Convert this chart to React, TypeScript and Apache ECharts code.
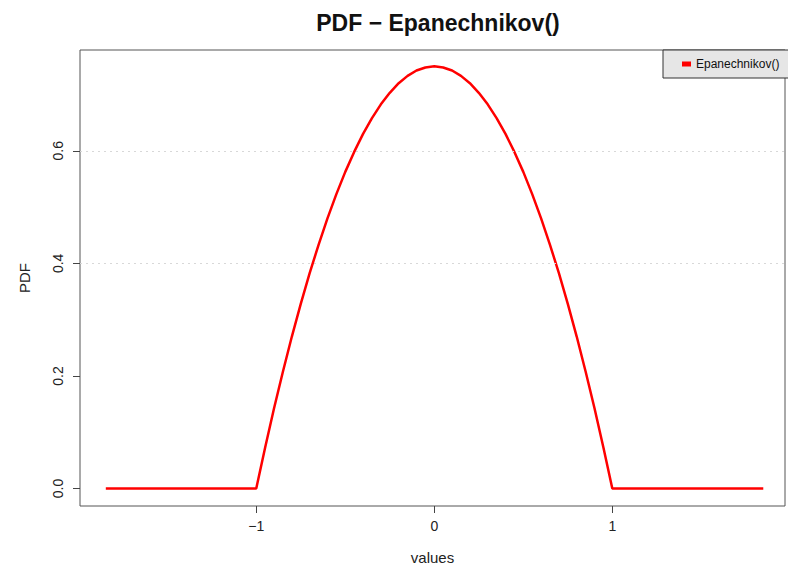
import React, { useEffect, useRef } from "react";
import * as echarts from "echarts";

const titleText = "PDF − Epanechnikov()";
const seriesName = "Epanechnikov()";
const xValues = [
  -1.845, -1.0, -0.95, -0.9, -0.85, -0.8, -0.75, -0.7, -0.65, -0.6, -0.55, -0.5, -0.45, -0.4, -0.35,
  -0.3, -0.25, -0.2, -0.15, -0.1, -0.05, 0, 0.05, 0.1, 0.15, 0.2, 0.25, 0.3, 0.35, 0.4, 0.45, 0.5,
  0.55, 0.6, 0.65, 0.7, 0.75, 0.8, 0.85, 0.9, 0.95, 1.0, 1.848,
];
const pdfValues = [
  0, 0, 0.073, 0.1425, 0.208, 0.27, 0.328, 0.3825, 0.433, 0.48, 0.523, 0.5625, 0.598, 0.63, 0.658,
  0.6825, 0.703, 0.72, 0.733, 0.7425, 0.748, 0.75, 0.748, 0.7425, 0.733, 0.72, 0.703, 0.6825, 0.658,
  0.63, 0.598, 0.5625, 0.523, 0.48, 0.433, 0.3825, 0.328, 0.27, 0.208, 0.1425, 0.073, 0, 0,
];
const xTicks = [-1, 0, 1];
const yTicks = [0, 0.2, 0.4, 0.6];
const gridLineValues = [0.4, 0.6];

const FONT = "Liberation Sans, Arial, Helvetica, sans-serif";

export default function App() {
  const ref = useRef<HTMLDivElement>(null);
  useEffect(() => {
    if (!ref.current) return;
    const chart = echarts.init(ref.current, null, { renderer: "svg" });
    const fmtMinus = (s: string) => s.replace("-", "−");
    chart.setOption({
      animation: false,
      backgroundColor: "#ffffff",
      title: {
        text: titleText,
        left: 433,
        textAlign: "center",
        top: 6,
        textStyle: { fontFamily: FONT, fontSize: 23, fontWeight: "bold", color: "#111" },
      },
      legend: {
        data: [seriesName],
        left: 663,
        top: 50,
        orient: "vertical",
        backgroundColor: "#e6e6e6",
        borderColor: "#333",
        borderWidth: 1,
        padding: [8, 20, 8, 19],
        itemWidth: 9,
        itemHeight: 5,
        icon: "rect",
        textStyle: { fontFamily: FONT, fontSize: 12, color: "#111" },
      },
      grid: {
        left: 80,
        top: 50,
        right: 3,
        bottom: 58,
        show: true,
        borderColor: "#555",
        borderWidth: 1,
        backgroundColor: "transparent",
      },
      xAxis: {
        type: "value",
        min: -1.99,
        max: 1.97,
        name: "values",
        nameLocation: "middle",
        nameGap: 44,
        nameTextStyle: { fontFamily: FONT, fontSize: 15, color: "#222" },
        axisLine: { show: false, onZero: false },
        axisTick: { show: true, length: 7, lineStyle: { color: "#444" }, customValues: xTicks },
        axisLabel: {
          fontFamily: FONT,
          fontSize: 14,
          color: "#222",
          margin: 13,
          customValues: xTicks,
          formatter: (v: number) => fmtMinus(String(v)),
        },
        splitLine: { show: false },
      },
      yAxis: {
        type: "value",
        min: -0.031,
        max: 0.779,
        name: "PDF",
        nameLocation: "middle",
        nameGap: 48,
        nameTextStyle: { fontFamily: FONT, fontSize: 15, color: "#222" },
        axisLine: { show: false, onZero: false },
        axisTick: { show: true, length: 7, lineStyle: { color: "#444" }, customValues: yTicks },
        axisLabel: {
          fontFamily: FONT,
          fontSize: 14,
          color: "#222",
          rotate: 90,
          margin: 15,
          customValues: yTicks,
          formatter: (v: number) => v.toFixed(1),
        },
        splitLine: { show: false },
      },
      series: [
        {
          name: seriesName,
          type: "line",
          data: xValues.map((x, i) => [x, pdfValues[i]]),
          showSymbol: false,
          smooth: false,
          lineStyle: { color: "#ff0000", width: 2.5 },
          itemStyle: { color: "#ff0000" },
          markLine: {
            silent: true,
            symbol: "none",
            label: { show: false },
            lineStyle: { color: "#d8d8d8", type: [2, 4], width: 1 },
            data: gridLineValues.map((v) => ({ yAxis: v })),
          },
        },
      ],
    });
    return () => chart.dispose();
  }, []);
  return (
    <div
      ref={ref}
      style={{ position: "absolute", left: 0, top: 0, width: 788, height: 570 }}
    />
  );
}
